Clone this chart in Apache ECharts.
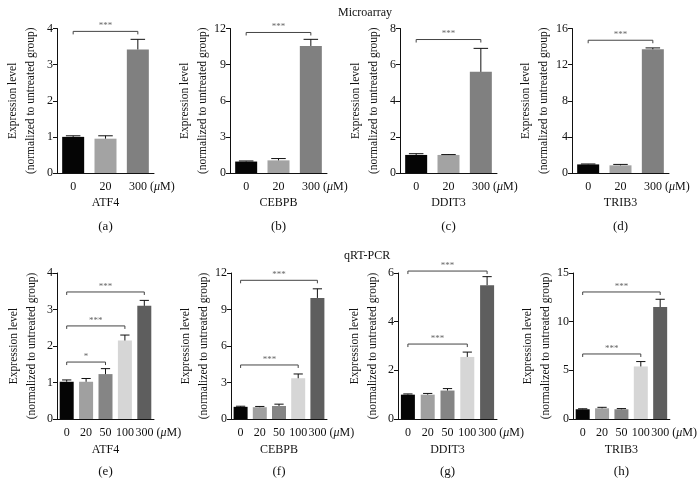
<!DOCTYPE html>
<html><head><meta charset="utf-8">
<script src="https://cdn.jsdelivr.net/npm/echarts@6/dist/echarts.min.js"></script>
<style>html,body{margin:0;padding:0;background:#fff}#c{width:700px;height:485px}</style>
</head><body><div id="c"></div>
<script>
// ---------- data ----------
const topCats = ['0', '20', '300'];
const botCats = ['0', '20', '50', '100', '300'];

const maATF4 = [1.0, 0.95, 3.42];
const maATF4Err = [1.03, 1.03, 3.70];
const maCEBPB = [0.95, 1.05, 10.55];
const maCEBPBErr = [1.0, 1.2, 11.1];
const maDDIT3 = [1.0, 1.0, 5.6];
const maDDIT3Err = [1.07, 1.02, 6.9];
const maTRIB3 = [0.95, 0.85, 13.7];
const maTRIB3Err = [1.0, 0.95, 13.85];

const qATF4 = [1.02, 1.02, 1.23, 2.15, 3.10];
const qATF4Err = [1.07, 1.11, 1.38, 2.30, 3.25];
const qCEBPB = [1.0, 0.97, 1.07, 3.35, 9.95];
const qCEBPBErr = [1.05, 1.03, 1.22, 3.70, 10.7];
const qDDIT3 = [1.0, 1.0, 1.17, 2.55, 5.5];
const qDDIT3Err = [1.03, 1.05, 1.25, 2.75, 5.85];
const qTRIB3 = [1.0, 1.1, 1.0, 5.4, 11.5];
const qTRIB3Err = [1.05, 1.2, 1.07, 5.9, 12.3];

// brackets: [fromIndex, toIndex, level, label]
const brA = [[0, 2, 3.92, '***']];
const brB = [[0, 2, 11.67, '***']];
const brC = [[0, 2, 7.39, '***']];
const brD = [[0, 2, 14.7, '***']];
const brE = [[0, 4, 3.48, '***'], [0, 3, 2.55, '***'], [0, 2, 1.56, '*']];
const brF = [[0, 4, 11.4, '***'], [0, 3, 4.44, '***']];
const brG = [[0, 4, 6.08, '***'], [0, 3, 3.08, '***']];
const brH = [[0, 4, 13.05, '***'], [0, 3, 6.68, '***']];

const yMax = [4, 12, 8, 16, 4, 12, 6, 15];
const yInterval = [1, 3, 2, 4, 1, 3, 2, 5];
const genes = ['ATF4', 'CEBPB', 'DDIT3', 'TRIB3', 'ATF4', 'CEBPB', 'DDIT3', 'TRIB3'];
const letters = ['(a)', '(b)', '(c)', '(d)', '(e)', '(f)', '(g)', '(h)'];
const yName = 'Expression level\n(normalized to untreated group)';

// ---------- style / layout ----------
const FONT = 'Liberation Serif';
const topColors = ['#050505', '#a3a3a3', '#808080'];
const botColors = ['#050505', '#a0a0a0', '#858585', '#d6d6d6', '#5e5e5e'];
const gridPos = [
  [57, 28.5, 97, 144.5], [230, 28.5, 97, 144.5], [400, 28.5, 97, 144.5], [572, 28.5, 97, 144.5],
  [57, 273, 97, 146], [231, 273, 96, 146], [398, 273, 99, 146], [573, 273, 97, 146]
];
const yNameGap = [17, 18, 17, 19, 16, 18, 16, 18];

const panels = [
  { cats: topCats, vals: maATF4, errs: maATF4Err, br: brA, colors: topColors },
  { cats: topCats, vals: maCEBPB, errs: maCEBPBErr, br: brB, colors: topColors },
  { cats: topCats, vals: maDDIT3, errs: maDDIT3Err, br: brC, colors: topColors },
  { cats: topCats, vals: maTRIB3, errs: maTRIB3Err, br: brD, colors: topColors },
  { cats: botCats, vals: qATF4, errs: qATF4Err, br: brE, colors: botColors },
  { cats: botCats, vals: qCEBPB, errs: qCEBPBErr, br: brF, colors: botColors },
  { cats: botCats, vals: qDDIT3, errs: qDDIT3Err, br: brG, colors: botColors },
  { cats: botCats, vals: qTRIB3, errs: qTRIB3Err, br: brH, colors: botColors }
];

const grids = [], xAxes = [], yAxes = [], series = [];

panels.forEach((p, i) => {
  const isTop = i < 4;
  const barW = isTop ? 22 : 14;
  const last = p.cats.length - 1;
  grids.push({ left: gridPos[i][0], top: gridPos[i][1], width: gridPos[i][2], height: gridPos[i][3] });
  xAxes.push({
    type: 'category', gridIndex: i, data: p.cats,
    axisLine: { lineStyle: { color: '#111', width: 1 } },
    axisTick: { alignWithLabel: true, interval: 0, length: 3, lineStyle: { color: '#111' } },
    axisLabel: {
      interval: 0, hideOverlap: false,
      margin: 8, fontFamily: FONT, fontSize: 12, color: '#111',
      formatter: (v, idx) => idx === last ? '{sp| }' + v + '{u| (}{mu|μ}{u|M)}' : v,
      rich: {
        sp: { width: 28 },
        u: { fontFamily: FONT, fontSize: 12, color: '#111' },
        mu: { fontFamily: FONT, fontSize: 12, color: '#111', fontStyle: 'italic' }
      }
    },
    name: '{g|' + genes[i] + '}\n{p|' + letters[i] + '}',
    nameLocation: 'middle', nameGap: isTop ? 23 : 24, nameMoveOverlap: false,
    nameTextStyle: {
      verticalAlign: 'top',
      rich: {
        g: { fontFamily: FONT, fontSize: 12, color: '#111', lineHeight: 14 },
        p: { fontFamily: FONT, fontSize: 13, color: '#111', lineHeight: isTop ? 34 : 30 }
      }
    }
  });
  yAxes.push({
    type: 'value', gridIndex: i, min: 0, max: yMax[i], interval: yInterval[i],
    splitLine: { show: false },
    axisLine: { show: true, lineStyle: { color: '#111', width: 1 } },
    axisTick: { show: true, length: 4, lineStyle: { color: '#111' } },
    axisLabel: { fontFamily: FONT, fontSize: 12, color: '#111', margin: 4 },
    name: yName, nameLocation: 'middle', nameGap: yNameGap[i], nameMoveOverlap: false,
    nameTextStyle: { fontFamily: FONT, fontSize: 11.5, color: '#111', lineHeight: 18 }
  });
  series.push({
    type: 'bar', xAxisIndex: i, yAxisIndex: i, barWidth: barW,
    data: p.vals.map((v, k) => ({ value: v, itemStyle: { color: p.colors[k] } })),
    silent: true
  });
  series.push({
    type: 'custom', xAxisIndex: i, yAxisIndex: i, silent: true, z: 5,
    data: p.errs.map((e, k) => [k, p.vals[k], e]),
    renderItem: (params, api) => {
      const base = api.coord([api.value(0), api.value(1)]);
      const top = api.coord([api.value(0), api.value(2)]);
      const hw = barW * 0.33;
      const st = { stroke: '#111', lineWidth: 1, fill: null };
      return {
        type: 'group', children: [
          { type: 'line', shape: { x1: base[0], y1: base[1], x2: top[0], y2: top[1] }, style: st },
          { type: 'line', shape: { x1: top[0] - hw, y1: top[1], x2: top[0] + hw, y2: top[1] }, style: st }
        ]
      };
    }
  });
  series.push({
    type: 'custom', xAxisIndex: i, yAxisIndex: i, silent: true, z: 6,
    data: p.br.map(b => [b[0], b[1], b[2]]),
    renderItem: (params, api) => {
      const a = api.coord([api.value(0), api.value(2)]);
      const b = api.coord([api.value(1), api.value(2)]);
      const lab = p.br[params.dataIndex][3];
      return {
        type: 'group', children: [
          { type: 'polyline', shape: { points: [[a[0], a[1] + 3], [a[0], a[1]], [b[0], b[1]], [b[0], b[1] + 3]] },
            style: { stroke: '#444', lineWidth: 1, fill: null } },
          { type: 'text', x: (a[0] + b[0]) / 2, y: a[1] - 1,
            style: { text: lab, fontFamily: FONT, fontSize: 9, fill: '#666', align: 'center', verticalAlign: 'bottom' } }
        ]
      };
    }
  });
});

const chart = echarts.init(document.getElementById('c'), null, { renderer: 'canvas' });
chart.setOption({
  animation: false,
  backgroundColor: '#fff',
  title: [
    { text: 'Microarray', left: 333, top: 2, textStyle: { fontFamily: FONT, fontSize: 12, fontWeight: 'normal', color: '#111' } },
    { text: 'qRT-PCR', left: 339, top: 245, textStyle: { fontFamily: FONT, fontSize: 12, fontWeight: 'normal', color: '#111' } }
  ],
  grid: grids, xAxis: xAxes, yAxis: yAxes, series: series
});
</script></body></html>
